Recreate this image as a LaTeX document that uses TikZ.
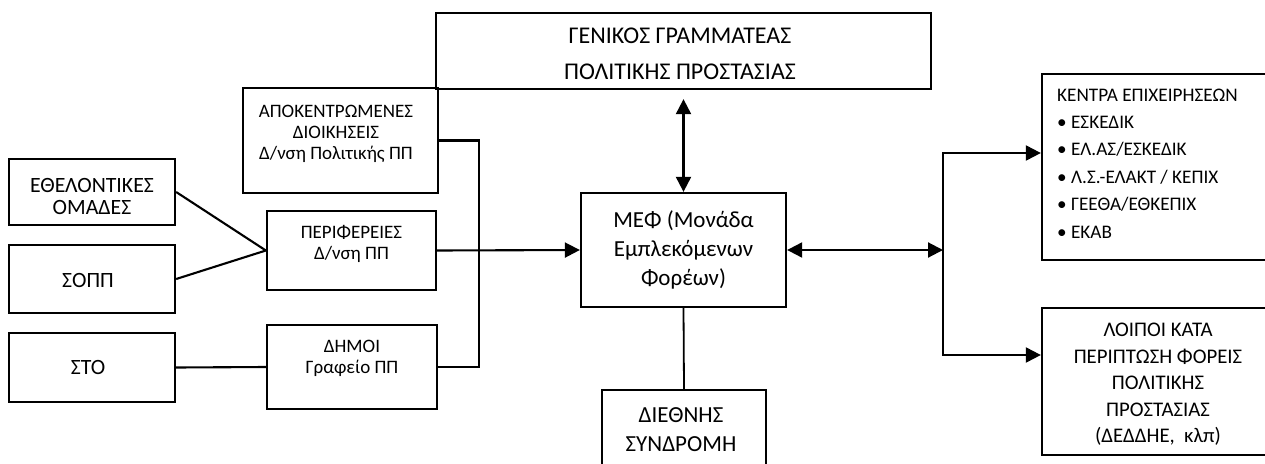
\documentclass[tikz,border=0pt]{standalone}
\usepackage{fontspec}
\setmainfont{Carlito}
\usetikzlibrary{arrows.meta}
\begin{document}
\begin{tikzpicture}[x=1pt,y=-1pt,
  box/.style={draw, line width=2.3pt, inner sep=0pt},
  conn/.style={line width=2.1pt},
  >={Triangle[length=15pt,width=15pt]},
  txt/.style={inner sep=0pt, align=center},
  fbig/.style={font=\fontsize{24}{36}\selectfont},
  fmed/.style={font=\fontsize{21.8}{22.5}\selectfont},
  fmef/.style={font=\fontsize{23}{29}\selectfont},
  fsmall/.style={font=\fontsize{19}{21}\selectfont},
  flist/.style={font=\fontsize{19.2}{27.4}\selectfont},
  flip/.style={font=\fontsize{20.8}{26.5}\selectfont}]
\useasboundingbox (0,0) rectangle (1265,463);

% boxes
\node[box, minimum width=495pt, minimum height=76pt] (gen) at (683.5,51) {};
\node[txt, fbig] at (680,54) {ΓΕΝΙΚΟΣ ΓΡΑΜΜΑΤΕΑΣ\\ΠΟΛΙΤΙΚΗΣ ΠΡΟΣΤΑΣΙΑΣ};

\node[box, minimum width=195pt, minimum height=105pt] (apok) at (340.5,140.5) {};
\node[txt, fsmall] at (336,134) {ΑΠΟΚΕΝΤΡΩΜΕΝΕΣ\\ΔΙΟΙΚΗΣΕΙΣ\\Δ/νση Πολιτικής ΠΠ};

\node[box, minimum width=169pt, minimum height=79pt] (perif) at (351.5,250.5) {};
\node[txt, fsmall] at (351.5,244) {ΠΕΡΙΦΕΡΕΙΕΣ\\Δ/νση ΠΠ};

\node[box, minimum width=170pt, minimum height=84pt] (dimoi) at (352,367) {};
\node[txt, fsmall] at (352,358) {ΔΗΜΟΙ\\Γραφείο ΠΠ};

\node[box, minimum width=166pt, minimum height=66pt] (eth) at (92,192) {};
\node[txt, fmed] at (92,196.5) {ΕΘΕΛΟΝΤΙΚΕΣ\\ΟΜΑΔΕΣ};

\node[box, minimum width=166pt, minimum height=68pt] (sopp) at (92,279) {};
\node[txt, fmed] at (88,280) {ΣΟΠΠ};

\node[box, minimum width=166pt, minimum height=69pt] (sto) at (92,367.5) {};
\node[txt, fmed] at (88,367) {ΣΤΟ};

\node[box, minimum width=205pt, minimum height=114pt] (mef) at (683.5,250) {};
\node[txt, fmef] at (683.5,249.5) {ΜΕΦ (Μονάδα\\Εμπλεκόμενων\\Φορέων)};

\node[box, minimum width=164pt, minimum height=90pt] (dieth) at (684,435) {};
\node[txt, fmef] at (681,429.5) {ΔΙΕΘΝΗΣ\\ΣΥΝΔΡΟΜΗ};

\node[box, minimum width=232pt, minimum height=186pt] (kentra) at (1158,167) {};
\node[txt, flist, align=left, anchor=north west] at (1057,88.5) {ΚΕΝΤΡΑ ΕΠΙΧΕΙΡΗΣΕΩΝ\\• ΕΣΚΕΔΙΚ\\• ΕΛ.ΑΣ/ΕΣΚΕΔΙΚ\\• Λ.Σ.-ΕΛΑΚΤ / ΚΕΠΙΧ\\• ΓΕΕΘΑ/ΕΘΚΕΠΙΧ\\• ΕΚΑΒ};

\node[box, minimum width=232pt, minimum height=147pt] (lip) at (1158,381.5) {};
\node[txt, flip] at (1158,384.5) {ΛΟΙΠΟΙ ΚΑΤΑ\\ΠΕΡΙΠΤΩΣΗ ΦΟΡΕΙΣ\\ΠΟΛΙΤΙΚΗΣ\\ΠΡΟΣΤΑΣΙΑΣ\\(ΔΕΔΔΗΕ,\ \ κλπ)};

% connectors
\draw[conn] (eth.east) -- (perif.west);
\draw[conn] (sopp.east) -- (perif.west);
\draw[conn] (sto.east) -- (dimoi.west);
\draw[conn, ->] (perif.east) -- (mef.west);
\coordinate (jx) at (479,0);
\draw[conn] (apok.east) -| (jx |- dimoi.east) -- (dimoi.east);
\draw[conn, <->] ([yshift=-9pt]gen.south) -- (mef.north);
\coordinate (sp) at (943,250);
\draw[conn, <->] (mef.east) -- (sp);
\coordinate (t1) at (943,153);
\coordinate (t2) at (943,355);
\draw[conn, <->] (kentra.west |- t1) -- (t1) -- (t2) -- (lip.west |- t2);
\draw[line width=1.8pt] (mef.south) -- (dieth.north);
\end{tikzpicture}
\end{document}
